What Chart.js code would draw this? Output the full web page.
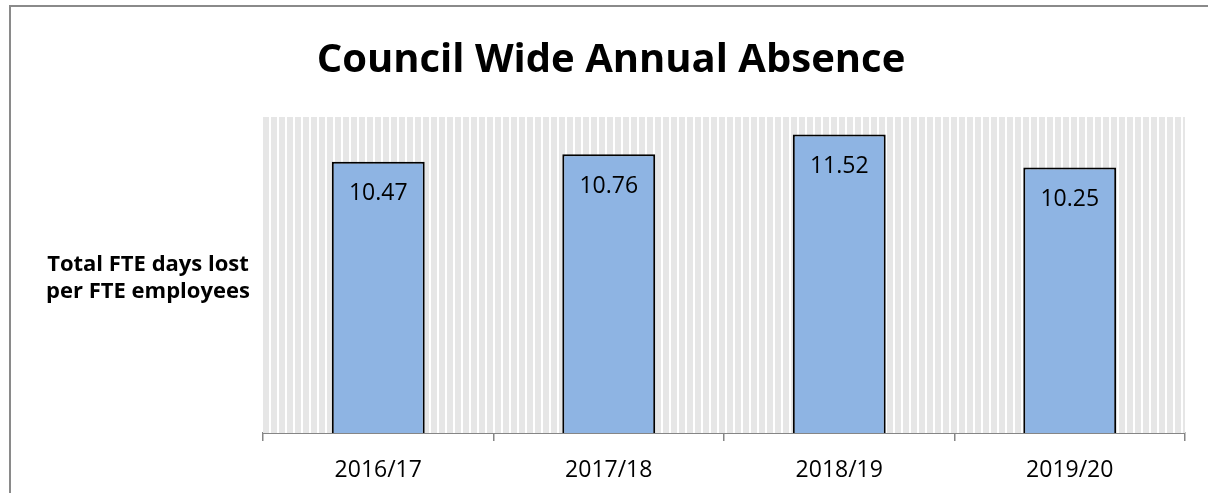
<!DOCTYPE html>
<html>
<head>
<meta charset="utf-8">
<script src="https://cdn.jsdelivr.net/npm/chart.js@4"></script>
<style>
  html, body { margin: 0; padding: 0; background: #fff; }
  canvas { display: block; }
</style>
</head>
<body>
<canvas id="absenceChart" width="1208" height="493"></canvas>
<script>
// chart data
const years = ["2016/17", "2017/18", "2018/19", "2019/20"];
const daysLost = [10.47, 10.76, 11.52, 10.25];
const chartTitle = "Council Wide Annual Absence";
const yLabelLines = ["Total FTE days lost", "per FTE employees"];

const FONT = "'Open Sans', 'Liberation Sans', sans-serif";

// frame, title and the y label drawn on the canvas
const decorations = {
  id: 'decorations',
  beforeDraw(chart) {
    const c = chart.ctx;
    c.save();
    c.strokeStyle = '#8a8a8a';
    c.lineWidth = 2;
    c.beginPath();
    c.moveTo(10, 493);
    c.lineTo(10, 6);
    c.lineTo(1208, 6);
    c.stroke();

    c.fillStyle = '#000';
    c.textAlign = 'center';
    c.textBaseline = 'alphabetic';
    c.font = 'bold 40px ' + FONT;
    c.fillText(chartTitle, 611, 72);

    c.font = 'bold 22px ' + FONT;
    c.fillText(yLabelLines[0], 148, 271);
    c.fillText(yLabelLines[1], 148, 298);
    c.restore();
  }
};

// striped plot background (grey with thin white vertical lines)
const stripes = {
  id: 'stripes',
  beforeDatasetsDraw(chart) {
    const a = chart.chartArea;
    const c = chart.ctx;
    c.save();
    c.fillStyle = '#e6e6e6';
    c.fillRect(a.left, a.top, a.right - a.left, a.bottom - a.top);
    c.fillStyle = '#ffffff';
    for (let x = a.left + 6; x < a.right - 1; x += 8) {
      c.fillRect(x, a.top, 2, a.bottom - a.top);
    }
    c.restore();
  }
};

// value labels inside the top of each bar
const barLabels = {
  id: 'barLabels',
  afterDatasetsDraw(chart) {
    const c = chart.ctx;
    const meta = chart.getDatasetMeta(0);
    c.save();
    c.fillStyle = '#000';
    c.font = '23px ' + FONT;
    c.textAlign = 'center';
    c.textBaseline = 'middle';
    meta.data.forEach((bar, i) => {
      c.fillText(daysLost[i].toFixed(2), bar.x, bar.y + 32);
    });
    c.restore();
  }
};

const ctx = document.getElementById('absenceChart').getContext('2d');
const absenceChart = new Chart(ctx, {
  type: 'bar',
  data: {
    labels: years,
    datasets: [{
      label: 'Total FTE days lost per FTE employees',
      data: daysLost,
      backgroundColor: '#8eb4e3',
      borderColor: '#000000',
      borderWidth: 2,
      categoryPercentage: 1,
      barPercentage: 0.403
    }]
  },
  options: {
    responsive: false,
    animation: false,
    layout: { padding: { left: 263, right: 23, top: 117, bottom: 0 } },
    plugins: {
      legend: { display: false },
      title: { display: false },
      tooltip: { enabled: false }
    },
    scales: {
      x: {
        grid: {
          offset: true,
          drawOnChartArea: false,
          drawTicks: true,
          tickLength: 8,
          color: '#868686',
          lineWidth: 1.5
        },
        border: { color: '#868686', width: 2 },
        ticks: {
          color: '#000',
          font: { family: FONT, size: 23 },
          padding: 16
        },
        afterFit(scale) { scale.height = 60; }
      },
      y: {
        display: false,
        min: 0,
        max: 12.2
      }
    }
  },
  plugins: [decorations, stripes, barLabels]
});
</script>
</body>
</html>
